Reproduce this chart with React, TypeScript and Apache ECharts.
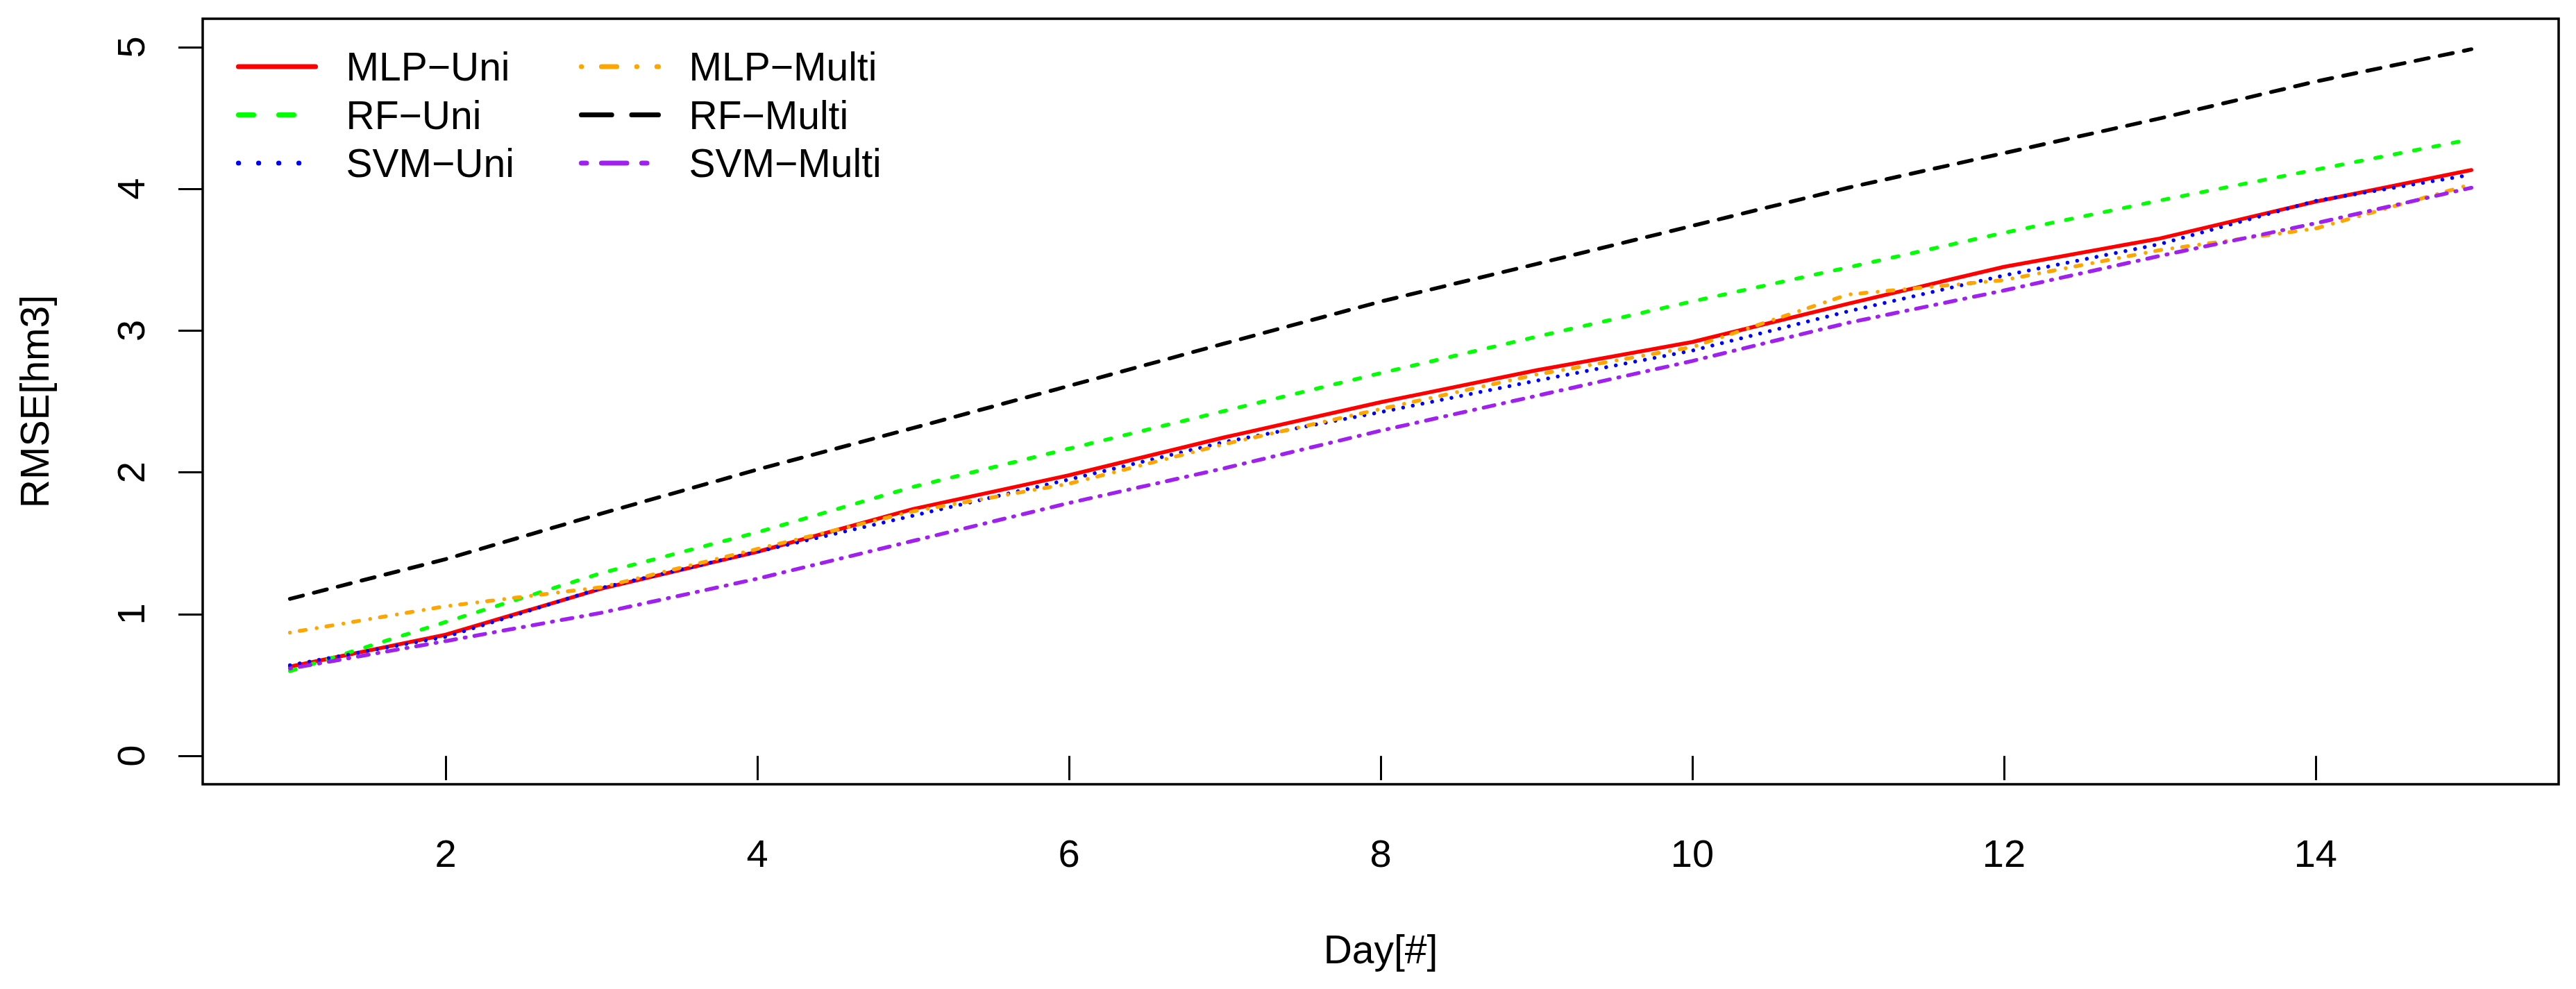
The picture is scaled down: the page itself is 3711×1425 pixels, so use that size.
import React, { useEffect, useRef } from "react";
import * as echarts from "echarts";

// ---- data ----
const days = [1, 2, 3, 4, 5, 6, 7, 8, 9, 10, 11, 12, 13, 14, 15];
const mlpUni = [0.63, 0.855, 1.18, 1.44, 1.742, 1.98, 2.248, 2.495, 2.72, 2.92, 3.19, 3.45, 3.65, 3.91, 4.133];
const rfUni = [0.598, 0.945, 1.29, 1.577, 1.898, 2.167, 2.434, 2.7, 2.957, 3.206, 3.446, 3.69, 3.918, 4.135, 4.35];
const svmUni = [0.64, 0.84, 1.185, 1.44, 1.695, 1.95, 2.215, 2.425, 2.647, 2.859, 3.136, 3.389, 3.61, 3.915, 4.1];
const mlpMulti = [0.87, 1.056, 1.19, 1.46, 1.725, 1.92, 2.2, 2.447, 2.69, 2.884, 3.255, 3.356, 3.568, 3.72, 4.032];
const rfMulti = [1.108, 1.388, 1.71, 2.02, 2.313, 2.61, 2.91, 3.205, 3.47, 3.739, 4.008, 4.252, 4.497, 4.757, 4.985];
const svmMulti = [0.616, 0.81, 1.01, 1.25, 1.517, 1.784, 2.03, 2.294, 2.54, 2.786, 3.055, 3.283, 3.527, 3.757, 4.008];

const seriesNames = ["MLP−Uni", "RF−Uni", "SVM−Uni", "MLP−Multi", "RF−Multi", "SVM−Multi"];
const xTicks = [2, 4, 6, 8, 10, 12, 14];
const yTicks = [0, 1, 2, 3, 4, 5];
const xTitle = "Day[#]";
const yTitle = "RMSE[hm3]";

// ---- styles ----
const colors = ["#FF0000", "#00FF00", "#0000FF", "#FFA500", "#000000", "#A020F0"];
// R line types: solid, dashed, dotted, dotdash, longdash, twodash
const ltys: (number[] | null)[] = [null, [4, 4], [1, 3], [1, 3, 4, 3], [7, 3], [2, 2, 6, 2]];
const FONT = "'Liberation Sans', Arial, Helvetica, sans-serif";

function dash(lty: number[] | null, unit: number, lw: number): any {
  if (!lty) return "solid";
  const out: number[] = [];
  for (let i = 0; i < lty.length; i += 2) {
    const on = lty[i] * unit;
    const off = lty[i + 1] * unit;
    const on2 = Math.max(on - lw, 0.01);
    out.push(on2, on + off - on2);
  }
  return out;
}

const DATA_LW = 5.5;
const DATA_UNIT = 3.55;
const LEG_LW = 7;
const LEG_UNIT = 7.25;

export default function App() {
  const ref = useRef<HTMLDivElement>(null);
  useEffect(() => {
    if (!ref.current) return;
    const chart = echarts.init(ref.current, undefined, { renderer: "svg" });
    const allSeries = [mlpUni, rfUni, svmUni, mlpMulti, rfMulti, svmMulti];
    const series = allSeries.map((vals, i) => ({
      name: seriesNames[i],
      type: "line",
      data: days.map((d, j) => [d, vals[j]]),
      symbol: "none",
      showSymbol: false,
      smooth: false,
      color: colors[i],
      lineStyle: {
        color: colors[i],
        width: DATA_LW,
        type: dash(ltys[i], DATA_UNIT, DATA_LW),
        cap: "round",
        join: "round",
      },
      z: 2 + i,
    }));
    const legendItem = (i: number) => ({
      name: seriesNames[i],
      itemStyle: { opacity: 0 },
      lineStyle: {
        color: colors[i],
        width: LEG_LW,
        type: dash(ltys[i], LEG_UNIT, LEG_LW),
        cap: "round",
      },
    });
    const legendCommon = {
      orient: "vertical",
      top: 66,
      padding: 0,
      itemWidth: 111,
      itemHeight: 14,
      itemGap: 9.5,
      selectedMode: false,
      textStyle: {
        fontFamily: FONT,
        fontSize: 57,
        color: "#000",
        lineHeight: 60,
        padding: [0, 0, 0, 39],
      },
    };
    chart.setOption({
      animation: false,
      backgroundColor: "#ffffff",
      grid: {
        left: 292,
        top: 27,
        right: 25,
        bottom: 295,
        show: true,
        borderColor: "#000",
        borderWidth: 3.5,
        backgroundColor: "transparent",
        containLabel: false,
        outerBoundsMode: "none",
      },
      legend: [
        { ...legendCommon, left: 340, data: [0, 1, 2].map(legendItem) },
        { ...legendCommon, left: 834, data: [3, 4, 5].map(legendItem) },
      ],
      xAxis: {
        type: "value",
        min: 0.44,
        max: 15.56,
        name: xTitle,
        nameLocation: "middle",
        nameGap: 209,
        nameTextStyle: { fontFamily: FONT, fontSize: 57, color: "#000" },
        axisLine: { show: false },
        splitLine: { show: false },
        axisTick: {
          show: true,
          inside: false,
          length: 35,
          customValues: xTicks,
          lineStyle: { color: "#000", width: 3 },
        },
        axisLabel: {
          show: true,
          customValues: xTicks,
          margin: 71,
          fontFamily: FONT,
          fontSize: 56,
          color: "#000",
        },
      },
      yAxis: {
        type: "value",
        min: -0.2,
        max: 5.2,
        name: yTitle,
        nameLocation: "middle",
        nameGap: 214,
        nameTextStyle: { fontFamily: FONT, fontSize: 57, color: "#000" },
        axisLine: { show: false },
        splitLine: { show: false },
        axisTick: {
          show: true,
          inside: false,
          length: 35,
          customValues: yTicks,
          lineStyle: { color: "#000", width: 3 },
        },
        axisLabel: {
          show: true,
          customValues: yTicks,
          rotate: 90,
          margin: 76,
          fontFamily: FONT,
          fontSize: 56,
          color: "#000",
        },
      },
      series,
    });
    return () => chart.dispose();
  }, []);
  return (
    <div
      ref={ref}
      style={{ position: "fixed", left: 0, top: 0, width: 3711, height: 1425, background: "#fff" }}
    />
  );
}
